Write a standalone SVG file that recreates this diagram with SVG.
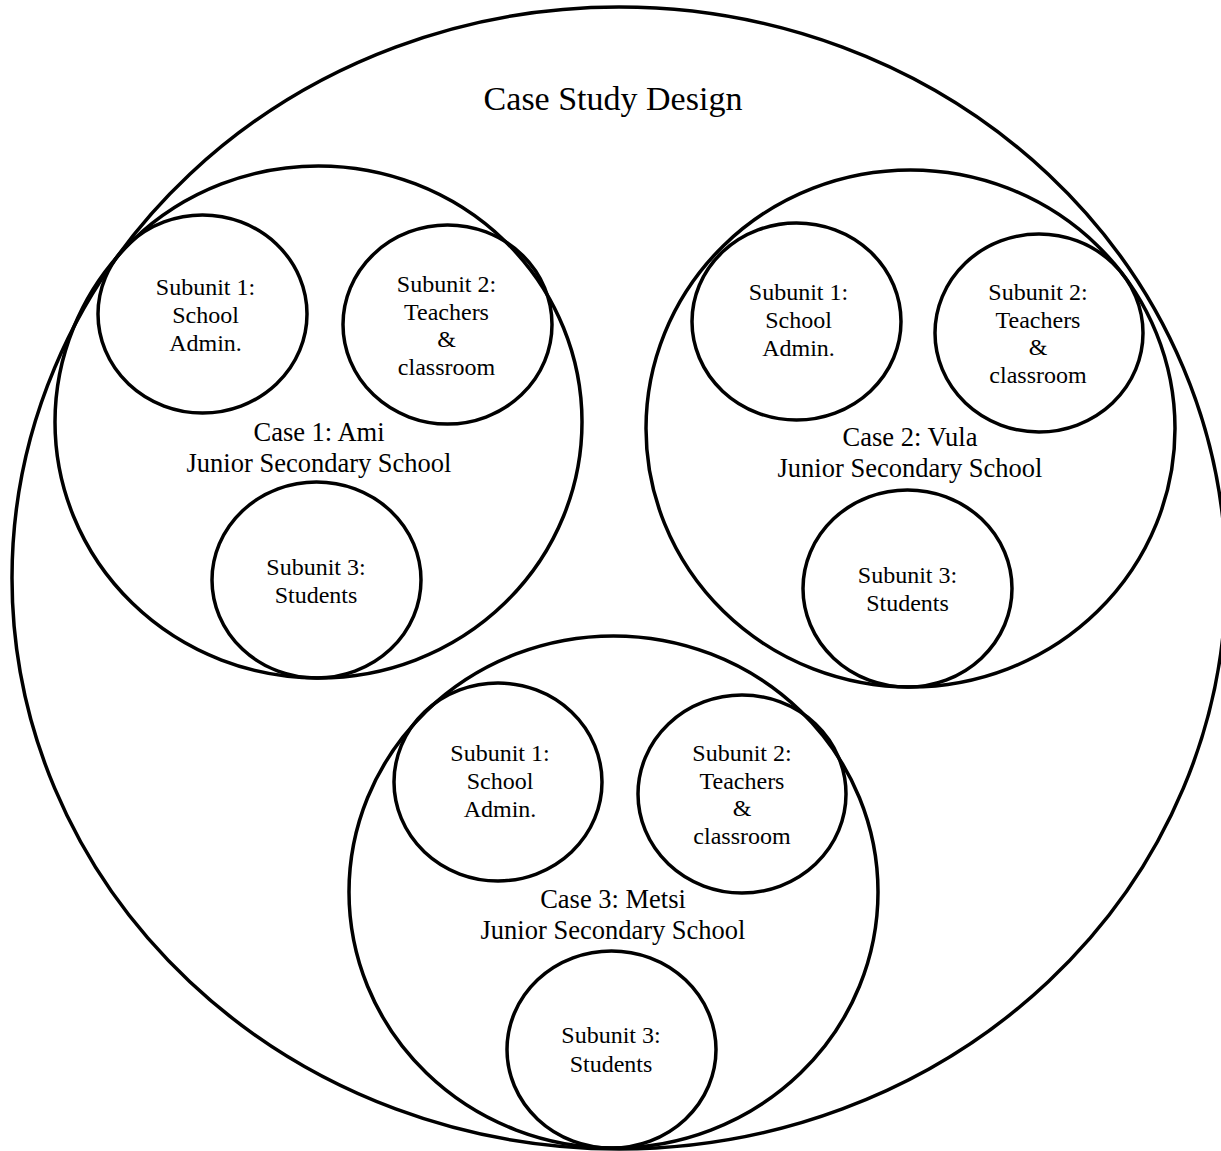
<svg xmlns="http://www.w3.org/2000/svg" width="1221" height="1151" viewBox="0 0 1221 1151">
<style>
  .ring { fill: none; stroke: #000; stroke-width: 3.5; }
  text { font-family: "Liberation Serif", "Times New Roman", serif; fill: #000; text-anchor: middle; }
  .title { font-size: 34px; }
  .case { font-size: 26.5px; }
  .sub { font-size: 24px; }
</style>
<rect width="1221" height="1151" fill="#fff"/>
<g id="design">
  <ellipse class="ring" cx="619" cy="578" rx="607" ry="571"/>
  <text class="title" x="613" y="110">Case Study Design</text>
</g>
<g id="case1">
  <ellipse class="ring" cx="318.5" cy="422" rx="263.5" ry="256"/>
  <text class="case" x="319" y="441">Case 1: Ami</text>
  <text class="case" x="319" y="472">Junior Secondary School</text>
</g>
<g id="case1-sub1">
  <ellipse class="ring" cx="202.5" cy="314" rx="104.5" ry="99"/>
  <text class="sub" x="205.5" y="295">Subunit 1:</text>
  <text class="sub" x="205.5" y="323">School</text>
  <text class="sub" x="205.5" y="351">Admin.</text>
</g>
<g id="case1-sub2">
  <ellipse class="ring" cx="447.5" cy="324.5" rx="104.5" ry="99.5"/>
  <text class="sub" x="446.5" y="292">Subunit 2:</text>
  <text class="sub" x="446.5" y="319.5">Teachers</text>
  <text class="sub" x="446.5" y="347">&amp;</text>
  <text class="sub" x="446.5" y="374.5">classroom</text>
</g>
<g id="case1-sub3">
  <ellipse class="ring" cx="316.5" cy="580" rx="104.5" ry="98"/>
  <text class="sub" x="316" y="575">Subunit 3:</text>
  <text class="sub" x="316" y="603">Students</text>
</g>
<g id="case2">
  <ellipse class="ring" cx="910.5" cy="428.5" rx="264.5" ry="258.5"/>
  <text class="case" x="910" y="446">Case 2: Vula</text>
  <text class="case" x="910" y="477">Junior Secondary School</text>
</g>
<g id="case2-sub1">
  <ellipse class="ring" cx="796.5" cy="321.5" rx="104.5" ry="98.5"/>
  <text class="sub" x="798.5" y="300">Subunit 1:</text>
  <text class="sub" x="798.5" y="328">School</text>
  <text class="sub" x="798.5" y="356">Admin.</text>
</g>
<g id="case2-sub2">
  <ellipse class="ring" cx="1039" cy="333" rx="104" ry="99"/>
  <text class="sub" x="1038" y="299.5">Subunit 2:</text>
  <text class="sub" x="1038" y="327.5">Teachers</text>
  <text class="sub" x="1038" y="355">&amp;</text>
  <text class="sub" x="1038" y="383">classroom</text>
</g>
<g id="case2-sub3">
  <ellipse class="ring" cx="907.5" cy="588.5" rx="104.5" ry="98.5"/>
  <text class="sub" x="907.5" y="583">Subunit 3:</text>
  <text class="sub" x="907.5" y="611">Students</text>
</g>
<g id="case3">
  <ellipse class="ring" cx="613.5" cy="892" rx="264.5" ry="256"/>
  <text class="case" x="613" y="908">Case 3: Metsi</text>
  <text class="case" x="613" y="939">Junior Secondary School</text>
</g>
<g id="case3-sub1">
  <ellipse class="ring" cx="498" cy="782" rx="104" ry="99"/>
  <text class="sub" x="500" y="761">Subunit 1:</text>
  <text class="sub" x="500" y="789">School</text>
  <text class="sub" x="500" y="817">Admin.</text>
</g>
<g id="case3-sub2">
  <ellipse class="ring" cx="742" cy="794" rx="104" ry="99"/>
  <text class="sub" x="742" y="760.5">Subunit 2:</text>
  <text class="sub" x="742" y="788.5">Teachers</text>
  <text class="sub" x="742" y="816">&amp;</text>
  <text class="sub" x="742" y="844">classroom</text>
</g>
<g id="case3-sub3">
  <ellipse class="ring" cx="611.5" cy="1049.5" rx="104.5" ry="98.5"/>
  <text class="sub" x="611" y="1043">Subunit 3:</text>
  <text class="sub" x="611" y="1071.5">Students</text>
</g>
<g id="connectors"></g>
</svg>
